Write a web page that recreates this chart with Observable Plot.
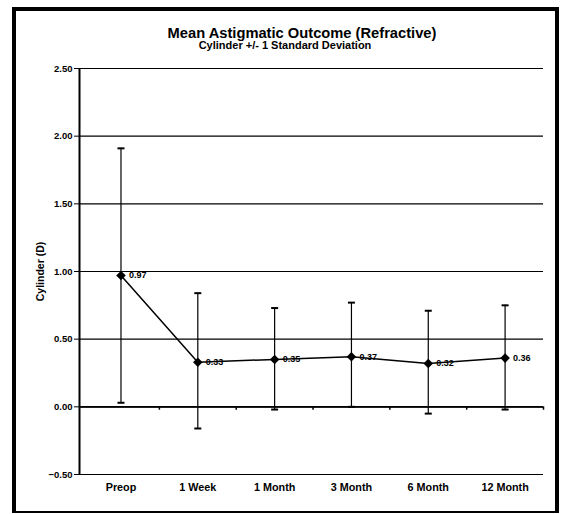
<!DOCTYPE html>
<html>
<head>
<meta charset="utf-8">
<script src="https://cdn.jsdelivr.net/npm/d3@7"></script>
<script src="https://cdn.jsdelivr.net/npm/@observablehq/plot@0.6"></script>
<style>
  body { margin: 0; background: #fff; }
  #wrap { position: relative; width: 561px; height: 514px; font-family: "Liberation Sans", Arial, sans-serif; }
  #frame { position: absolute; left: 12px; top: 7px; width: 539px; height: 500px; border-style: solid; border-color: #000; border-width: 4px 4px 2px 4px; pointer-events: none; }
  #title { position: absolute; left: 0; width: 604px; top: 24.5px; text-align: center; font-weight: bold; font-size: 14.7px; line-height: 17px; white-space: nowrap; }
  #subtitle { position: absolute; left: 0; width: 570px; top: 39px; text-align: center; font-weight: bold; font-size: 11px; line-height: 13px; white-space: nowrap; }
  #chart { position: absolute; left: 0; top: 0; }
</style>
</head>
<body>
<div id="wrap">
  <div id="chart"></div>
  <div id="frame"></div>
  <div id="title">Mean Astigmatic Outcome (Refractive)</div>
  <div id="subtitle">Cylinder +/- 1 Standard Deviation</div>
</div>
<script>
const categories = ["Preop", "1 Week", "1 Month", "3 Month", "6 Month", "12 Month"];
const means = [0.97, 0.33, 0.35, 0.37, 0.32, 0.36];
const upper = [1.91, 0.84, 0.73, 0.77, 0.71, 0.75];
const lower = [0.03, -0.16, -0.02, 0.00, -0.05, -0.02];
const yTicks = [-0.5, 0, 0.5, 1, 1.5, 2, 2.5];

const data = categories.map((c, i) => ({cat: c, pos: i + 0.5, mean: means[i], hi: upper[i], lo: lower[i]}));
const boundaries = d3.range(1, categories.length + 1);
const xMin = -0.04;

const cap = {
  draw(ctx, size) {
    const r = Math.sqrt(size / Math.PI);
    ctx.moveTo(-r, 0);
    ctx.lineTo(r, 0);
  }
};

const chart = Plot.plot({
  width: 561,
  height: 514,
  marginTop: 68,
  marginBottom: 40,
  marginLeft: 79,
  marginRight: 18,
  style: {fontFamily: "Liberation Sans, Arial, sans-serif", fontWeight: "bold", fontSize: "10px", background: "transparent"},
  x: {domain: [xMin, categories.length], axis: null},
  y: {domain: [-0.5, 2.5], axis: null},
  marks: [
    Plot.gridY(yTicks, {stroke: "#000", strokeOpacity: 1, strokeWidth: 1.2}),
    Plot.ruleY([0], {stroke: "#000", strokeWidth: 1.6}),
    Plot.ruleX(boundaries, {x: d => d, y1: 0, y2: -0.025, stroke: "#000", strokeWidth: 1.5}),
    Plot.ruleX([xMin], {y1: -0.5, y2: 2.5, stroke: "#000", strokeWidth: 2}),
    Plot.axisY(yTicks, {
      tickFormat: d3.format(".2f"), tickSize: 5, tickPadding: 2, stroke: "#000",
      fontWeight: "bold", fontSize: 9.5, label: null
    }),
    Plot.axisY({
      ticks: [], tickSize: 0, fontWeight: "bold", fontSize: 10.5,
      label: "Cylinder (D)", labelAnchor: "center", labelArrow: "none", labelOffset: 43
    }),
    Plot.axisX(data.map(d => d.pos), {
      anchor: "bottom", tickSize: 0, tickPadding: 9,
      tickFormat: (d, i) => categories[i], fontWeight: "bold", fontSize: 10.8, label: null
    }),
    Plot.ruleX(data, {x: "pos", y1: "lo", y2: "hi", stroke: "#000", strokeWidth: 1.2}),
    Plot.dot(data, {x: "pos", y: "hi", symbol: cap, r: 3.5, stroke: "#000", strokeWidth: 2}),
    Plot.dot(data, {x: "pos", y: "lo", symbol: cap, r: 3.5, stroke: "#000", strokeWidth: 2}),
    Plot.line(data, {x: "pos", y: "mean", stroke: "#000", strokeWidth: 1.5}),
    Plot.dot(data, {x: "pos", y: "mean", symbol: "diamond2", r: 4.3, fill: "#000", stroke: "none"}),
    Plot.text(data, {x: "pos", y: "mean", text: d => d3.format(".2f")(d.mean), dx: 8, textAnchor: "start", fontWeight: "bold", fontSize: 9})
  ]
});
document.getElementById("chart").appendChild(chart);
</script>
</body>
</html>
